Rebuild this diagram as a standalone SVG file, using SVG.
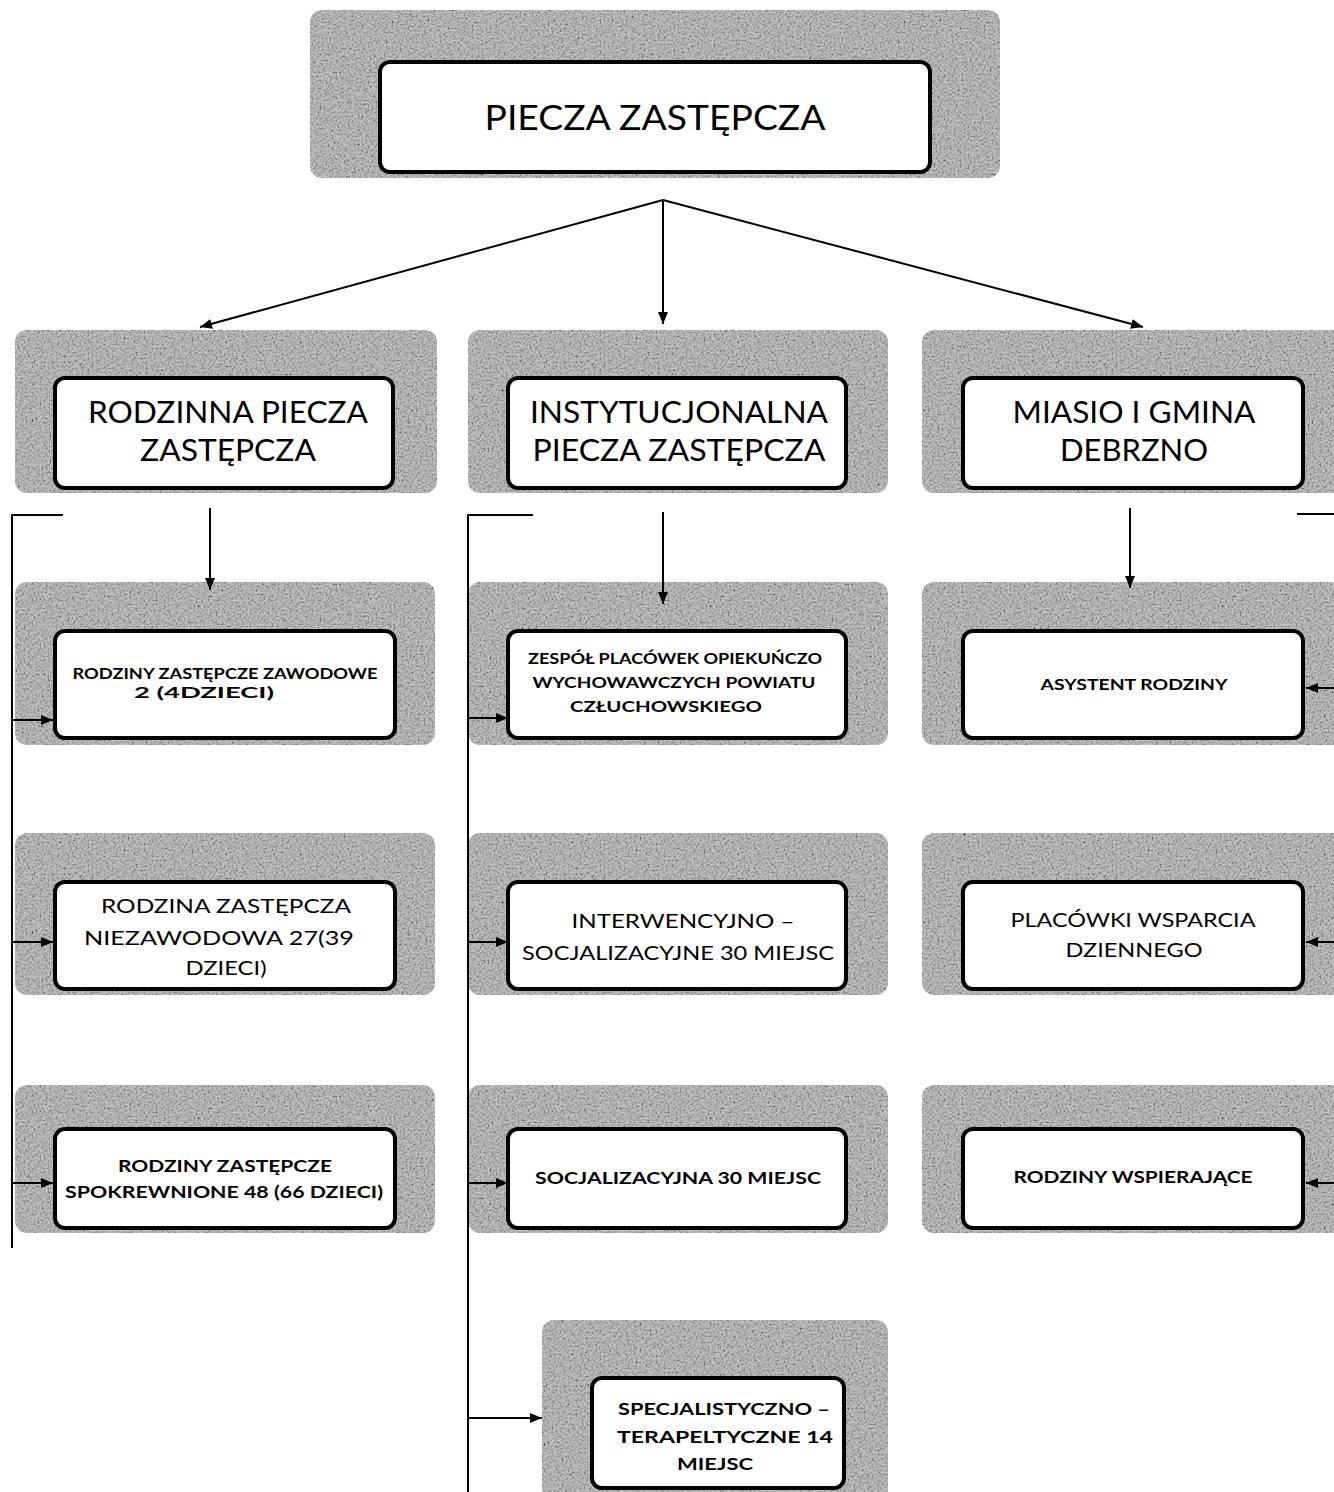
<svg xmlns="http://www.w3.org/2000/svg" width="1334" height="1492" viewBox="0 0 1334 1492">
<style>
.bg{fill:#c2c2c2;filter:url(#grain)}
.box{fill:#fff;stroke:#000;stroke-width:4}
.t{font-family:Lato,"Liberation Sans",sans-serif;fill:#000;text-anchor:middle}
.big{font-size:30px}
.top{font-size:35px}
.sm{font-size:15px;font-weight:bold}
.md{font-size:19px}
.m3{font-size:17px;font-weight:bold}
.ln{stroke:#000;stroke-width:2;fill:none}
</style>
<defs>
<filter id="grain" x="0" y="0" width="1" height="1">
<feTurbulence type="fractalNoise" baseFrequency="0.5" numOctaves="3" seed="7" result="n"/>
<feColorMatrix in="n" type="matrix" values="0.9 0.9 0.9 0 -0.55 0.9 0.9 0.9 0 -0.55 0.9 0.9 0.9 0 -0.55 0 0 0 0 1" result="g"/>
<feComposite in="g" in2="SourceGraphic" operator="in" result="gc"/>
<feBlend in="SourceGraphic" in2="gc" mode="multiply"/>
</filter>
<marker id="ah" viewBox="0 0 12 10" refX="12" refY="5" markerWidth="12" markerHeight="10" markerUnits="userSpaceOnUse" orient="auto">
<path d="M0,0 L12,5 L0,10 z" fill="#000"/>
</marker>
</defs>

<g id="n-root">
<rect class="bg" x="310" y="10" width="690" height="168" rx="12"/>
<rect class="box" x="380" y="62" width="550" height="110" rx="10"/>
<text class="t top" x="655" y="130" textLength="341" lengthAdjust="spacingAndGlyphs">PIECZA ZASTĘPCZA</text>
</g>

<g id="n-rodzinna">
<rect class="bg" x="15" y="330" width="422" height="163" rx="12"/>
<rect class="box" x="55" y="378" width="338" height="110" rx="10"/>
<text class="t big" x="228" y="423" textLength="280" lengthAdjust="spacingAndGlyphs">RODZINNA PIECZA</text>
<text class="t big" x="228" y="461" textLength="176" lengthAdjust="spacingAndGlyphs">ZASTĘPCZA</text>
</g>

<g id="n-instytucjonalna">
<rect class="bg" x="468" y="330" width="420" height="163" rx="12"/>
<rect class="box" x="508" y="378" width="338" height="110" rx="10"/>
<text class="t big" x="679" y="423" textLength="298" lengthAdjust="spacingAndGlyphs">INSTYTUCJONALNA</text>
<text class="t big" x="679" y="461" textLength="293" lengthAdjust="spacingAndGlyphs">PIECZA ZASTĘPCZA</text>
</g>

<g id="n-miasto">
<rect class="bg" x="922" y="330" width="424" height="163" rx="12"/>
<rect class="box" x="963" y="378" width="340" height="110" rx="10"/>
<text class="t big" x="1134" y="423" textLength="243" lengthAdjust="spacingAndGlyphs">MIASIO I GMINA</text>
<text class="t big" x="1134" y="461" textLength="148" lengthAdjust="spacingAndGlyphs">DEBRZNO</text>
</g>

<g id="n-zawodowe">
<rect class="bg" x="15" y="582" width="420" height="163" rx="12"/>
<rect class="box" x="55" y="631" width="340" height="107" rx="10"/>
<text class="t sm" x="225" y="679" textLength="305" lengthAdjust="spacingAndGlyphs">RODZINY ZASTĘPCZE ZAWODOWE</text>
<text class="t sm" x="204" y="698" textLength="140" lengthAdjust="spacingAndGlyphs">2 (4DZIECI)</text>
</g>

<g id="n-zespol">
<rect class="bg" x="468" y="582" width="420" height="163" rx="12"/>
<rect class="box" x="508" y="631" width="338" height="107" rx="10"/>
<text class="t sm" x="675" y="664" textLength="294" lengthAdjust="spacingAndGlyphs">ZESPÓŁ PLACÓWEK OPIEKUŃCZO</text>
<text class="t sm" x="674" y="688" textLength="283" lengthAdjust="spacingAndGlyphs">WYCHOWAWCZYCH POWIATU</text>
<text class="t sm" x="666" y="712" textLength="192" lengthAdjust="spacingAndGlyphs">CZŁUCHOWSKIEGO</text>
</g>

<g id="n-asystent">
<rect class="bg" x="922" y="582" width="424" height="163" rx="12"/>
<rect class="box" x="963" y="631" width="340" height="107" rx="10"/>
<text class="t sm" x="1134" y="690" textLength="187" lengthAdjust="spacingAndGlyphs">ASYSTENT RODZINY</text>
</g>

<g id="n-niezawodowa">
<rect class="bg" x="15" y="833" width="420" height="162" rx="12"/>
<rect class="box" x="55" y="882" width="340" height="107" rx="10"/>
<text class="t md" x="226" y="913" textLength="250" lengthAdjust="spacingAndGlyphs">RODZINA ZASTĘPCZA</text>
<text class="t md" x="219" y="945" textLength="270" lengthAdjust="spacingAndGlyphs">NIEZAWODOWA 27(39</text>
<text class="t md" x="226" y="975" textLength="81" lengthAdjust="spacingAndGlyphs">DZIECI)</text>
</g>

<g id="n-interwencyjno">
<rect class="bg" x="468" y="833" width="420" height="162" rx="12"/>
<rect class="box" x="508" y="882" width="338" height="107" rx="10"/>
<text class="t md" x="683" y="928" textLength="223" lengthAdjust="spacingAndGlyphs">INTERWENCYJNO –</text>
<text class="t md" x="678" y="960" textLength="312" lengthAdjust="spacingAndGlyphs">SOCJALIZACYJNE 30 MIEJSC</text>
</g>

<g id="n-placowki">
<rect class="bg" x="922" y="833" width="424" height="162" rx="12"/>
<rect class="box" x="963" y="882" width="340" height="107" rx="10"/>
<text class="t md" x="1133" y="927" textLength="245" lengthAdjust="spacingAndGlyphs">PLACÓWKI WSPARCIA</text>
<text class="t md" x="1134" y="957" textLength="137" lengthAdjust="spacingAndGlyphs">DZIENNEGO</text>
</g>

<g id="n-spokrewnione">
<rect class="bg" x="15" y="1085" width="420" height="148" rx="12"/>
<rect class="box" x="55" y="1129" width="340" height="99" rx="10"/>
<text class="t m3" x="225" y="1172" textLength="214" lengthAdjust="spacingAndGlyphs">RODZINY ZASTĘPCZE</text>
<text class="t m3" x="224" y="1198" textLength="318" lengthAdjust="spacingAndGlyphs">SPOKREWNIONE 48 (66 DZIECI)</text>
</g>

<g id="n-socjalizacyjna">
<rect class="bg" x="468" y="1085" width="420" height="148" rx="12"/>
<rect class="box" x="508" y="1129" width="338" height="99" rx="10"/>
<text class="t m3" x="678" y="1184" textLength="286" lengthAdjust="spacingAndGlyphs">SOCJALIZACYJNA 30 MIEJSC</text>
</g>

<g id="n-wspierajace">
<rect class="bg" x="922" y="1085" width="424" height="148" rx="12"/>
<rect class="box" x="963" y="1129" width="340" height="99" rx="10"/>
<text class="t m3" x="1133" y="1183" textLength="239" lengthAdjust="spacingAndGlyphs">RODZINY WSPIERAJĄCE</text>
</g>

<g id="n-specjalistyczno">
<rect class="bg" x="542" y="1320" width="346" height="182" rx="12"/>
<rect class="box" x="592" y="1378" width="252" height="110" rx="10"/>
<text class="t m3" x="724" y="1415" textLength="212" lengthAdjust="spacingAndGlyphs">SPECJALISTYCZNO –</text>
<text class="t m3" x="725" y="1443" textLength="216" lengthAdjust="spacingAndGlyphs">TERAPELTYCZNE 14</text>
<text class="t m3" x="715" y="1470" textLength="76" lengthAdjust="spacingAndGlyphs">MIEJSC</text>
</g>

<g id="connectors">
<line class="ln" x1="663" y1="200" x2="200" y2="327" marker-end="url(#ah)"/>
<line class="ln" x1="663" y1="200" x2="663" y2="324" marker-end="url(#ah)"/>
<line class="ln" x1="663" y1="200" x2="1143" y2="327" marker-end="url(#ah)"/>
<line class="ln" x1="210" y1="508" x2="210" y2="590" marker-end="url(#ah)"/>
<line class="ln" x1="663" y1="512" x2="663" y2="604" marker-end="url(#ah)"/>
<line class="ln" x1="1130" y1="508" x2="1130" y2="588" marker-end="url(#ah)"/>
<polyline class="ln" points="63,515 12,515 12,1248"/>
<line class="ln" x1="12" y1="720" x2="53" y2="720" marker-end="url(#ah)"/>
<line class="ln" x1="12" y1="942" x2="53" y2="942" marker-end="url(#ah)"/>
<line class="ln" x1="12" y1="1183" x2="53" y2="1183" marker-end="url(#ah)"/>
<polyline class="ln" points="533,515 468,515 468,1492"/>
<line class="ln" x1="468" y1="718" x2="508" y2="718" marker-end="url(#ah)"/>
<line class="ln" x1="468" y1="942" x2="508" y2="942" marker-end="url(#ah)"/>
<line class="ln" x1="468" y1="1183" x2="508" y2="1183" marker-end="url(#ah)"/>
<line class="ln" x1="468" y1="1418" x2="542" y2="1418" marker-end="url(#ah)"/>
<polyline class="ln" points="1297,514 1334,514"/>
<line class="ln" x1="1334" y1="688" x2="1306" y2="688" marker-end="url(#ah)"/>
<line class="ln" x1="1334" y1="942" x2="1306" y2="942" marker-end="url(#ah)"/>
<line class="ln" x1="1334" y1="1183" x2="1306" y2="1183" marker-end="url(#ah)"/>
</g>
</svg>
